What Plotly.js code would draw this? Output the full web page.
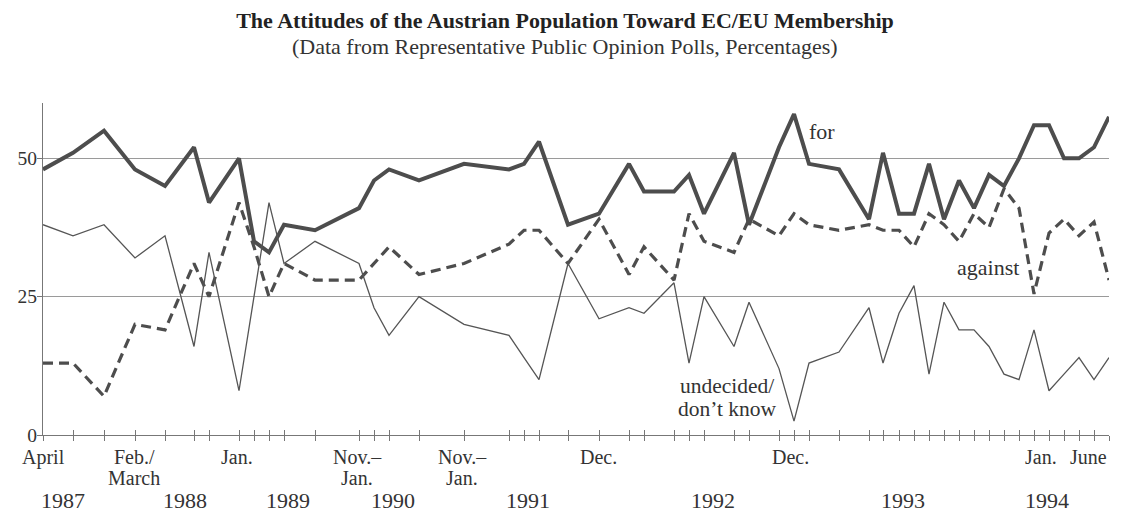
<!DOCTYPE html>
<html>
<head>
<meta charset="utf-8">
<script src="https://cdn.plot.ly/plotly-3.0.1.min.js"></script>
<style>html,body{margin:0;padding:0;background:#fff;}#chart{width:1130px;height:526px;}</style>
</head>
<body>
<div id="chart"></div>
<script>
// Poll positions along the (non-linear) time axis, in axis units
const pollPos = [0,30,61,92,122,151,166,196,211,226,241,272,316,331,346,376,421,466,481,496,525,556,586,601,631,646,661,691,706,736,751,766,796,826,840,856,871,886,901,916,931,946,961,976,991,1006,1021,1036,1051,1066];
const forVals = [48,51,55,48,45,52,42,50,35,33,38,37,41,46,48,46,49,48,49,53,38,40,49,44,44,47,40,51,38,52,58,49,48,39,51,40,40,49,39,46,41,47,45,50,56,56,50,50,52,57.5];
const againstVals = [13,13,7,20,19,31,25,42,34,25,31,28,28,31,34,29,31,34.5,37,37,31,39,29,34,28,40,35,33,39,36,40,38,37,38,37,37,34,40,38,35,40,37.5,44.5,41,25.5,36.5,39,36,38.5,28];
const undecidedVals = [38,36,38,32,36,16,33,8,25,42,31,35,31,23,18,25,20,18,14,10,31,21,23,22,27.5,13,25,16,24,12,2.5,13,15,23,13,22,27,11,24,19,19,16,11,10,19,8,11,14,10,14];
// Month labels under the axis (first and second line)
const monthLabelPos = [0,91,194,314,419,555,747,998,1045];
const monthLabelTop = ['April','Feb./','Jan.','Nov.–','Nov.–','Dec.','Dec.','Jan.','June'];
const monthLabelBottom = ['','March','','Jan.','Jan.','','','',''];
// Year labels
const yearLabels = ['1987','1988','1989','1990','1991','1992','1993','1994'];
const yearPos = [20,142,245,350,485,670,860,1004];
const yTicks = [0,25,50];

const serif = 'Liberation Serif, Times New Roman, serif';
const lineCol = '#4d4d4d';
const txtCol = '#333';

const traces = [
  {x: pollPos, y: forVals, mode: 'lines', name: 'for', line: {color: lineCol, width: 4}},
  {x: pollPos, y: againstVals, mode: 'lines', name: 'against', line: {color: lineCol, width: 3.2, dash: '10px,6px'}},
  {x: pollPos, y: undecidedVals, mode: 'lines', name: 'undecided', line: {color: '#555', width: 1.3}},
  {x: pollPos, y: pollPos.map(() => null), xaxis: 'x2', mode: 'lines', showlegend: false, hoverinfo: 'skip'}
];

const py = p => (435 - p) / 332; // pixel row -> paper y
const note = (text, x, y, xref, yref, size) => ({text: text, x: x, y: y, xref: xref, yref: yref, xanchor: 'center', yanchor: 'middle',
  showarrow: false, font: {family: serif, size: size, color: txtCol}});
const annotations = [
  note('for', 779, 54.9, 'x', 'y', 22),
  note('against', 945, 30.2, 'x', 'y', 22),
  note('undecided/', 684, py(386), 'x', 'paper', 21.5),
  note('don’t know', 684, py(409), 'x', 'paper', 21.5),
  note('(Data from Representative Public Opinion Polls, Percentages)', (565 - 43) / 1066, py(46), 'paper', 'paper', 22)
];
monthLabelPos.forEach((p, i) => {
  annotations.push(note(monthLabelTop[i], p, py(457), 'x', 'paper', 20));
  if (monthLabelBottom[i]) annotations.push(note(monthLabelBottom[i], p, py(478), 'x', 'paper', 20));
});
yearLabels.forEach((t, i) => {
  annotations.push(note(t, yearPos[i], py(500), 'x', 'paper', 22));
});

const layout = {
  width: 1130, height: 526,
  margin: {l: 43, r: 21, t: 103, b: 91},
  paper_bgcolor: '#fff', plot_bgcolor: '#fff',
  showlegend: false,
  title: {text: '<b>The Attitudes of the Austrian Population Toward EC/EU Membership</b>', font: {family: serif, size: 22, color: '#222'}, x: 0.5, xref: 'container', xanchor: 'center', y: 1 - 20 / 526, yref: 'container', yanchor: 'middle'},
  xaxis: {range: [0, 1066], tickvals: pollPos, showticklabels: false, ticks: 'outside', ticklen: 5, tickcolor: '#777', tickwidth: 1,
    showline: true, linecolor: '#777', linewidth: 1, showgrid: false, zeroline: false, fixedrange: true},
  xaxis2: {overlaying: 'x', matches: 'x', anchor: 'y', side: 'bottom', range: [0, 1066], tickvals: pollPos, ticks: 'inside', ticklen: 5, tickcolor: '#777',
    showticklabels: false, showline: false, showgrid: false, zeroline: false},
  yaxis: {range: [0, 60], tickvals: yTicks, ticktext: yTicks.map(String), ticks: 'outside', ticklen: 5, tickcolor: '#777',
    ticklabelstandoff: -4,
    showline: true, linecolor: '#777', linewidth: 1, showgrid: true, gridcolor: '#9a9a9a', gridwidth: 1, zeroline: false,
    tickfont: {family: serif, size: 19.5, color: txtCol}, fixedrange: true},
  annotations: annotations
};

Plotly.newPlot('chart', traces, layout, {displayModeBar: false, staticPlot: true});
</script>
</body>
</html>
